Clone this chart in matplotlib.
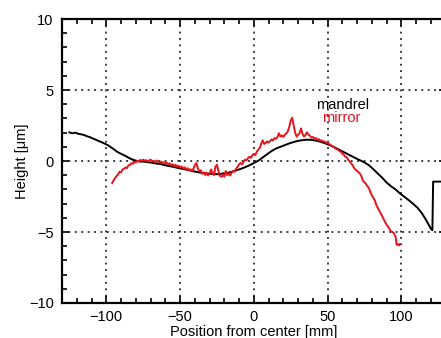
"""
Mandrel vs mirror height profile along the position from center
"""

import matplotlib
matplotlib.use("Agg")
import matplotlib.pyplot as plt
from matplotlib.ticker import MultipleLocator

plt.rcParams['font.family'] = ['Liberation Sans', 'DejaVu Sans']

# mandrel profile (black)
mandrel_x = [-125, -123, -121, -119, -117, -115, -113, -111, -109, -107, -105, -103, -101, -99, -97,
             -95, -93, -91, -89, -87, -85, -83, -81, -79, -77, -75, -72, -69, -66, -63, -60, -57,
             -54, -51, -48, -45, -42, -39, -36, -33, -30, -27, -24, -21, -18, -15, -12, -9, -6, -3,
             0, 3, 6, 9, 12, 15, 18, 21, 24, 27, 30, 33, 36, 39, 42, 45, 48, 51, 54, 57, 60, 63,
             66, 69, 72, 75, 78, 81, 84, 87, 90, 93, 96, 99, 102, 105, 108, 111, 114, 117, 120,
             121, 121.5, 125, 131]
mandrel_y = [2.02, 1.95, 2.00, 1.92, 1.88, 1.83, 1.74, 1.68, 1.58, 1.50, 1.40, 1.32, 1.22, 1.12, 0.98,
             0.84, 0.68, 0.56, 0.46, 0.36, 0.24, 0.14, 0.06, 0.00, -0.04, -0.04, -0.08, -0.12, -0.18,
             -0.22, -0.30, -0.36, -0.42, -0.50, -0.56, -0.62, -0.70, -0.76, -0.82, -0.86, -0.90,
             -0.92, -0.93, -0.88, -0.84, -0.76, -0.66, -0.56, -0.44, -0.30,
             -0.14, 0.02, 0.25, 0.48, 0.70, 0.88, 1.00, 1.12, 1.24, 1.34, 1.42, 1.47, 1.50, 1.49,
             1.44, 1.36, 1.26, 1.14, 1.00, 0.84, 0.68, 0.52, 0.36, 0.20, 0.05, -0.10, -0.30, -0.58,
             -0.88, -1.18, -1.52, -1.78, -2.00, -2.28, -2.52, -2.76, -3.02, -3.30, -3.70, -4.20,
             -4.78, -4.88, -1.45, -1.45, -1.45]

# mirror profile (red)
mirror_x = [-96, -95, -94, -93, -92, -91, -90, -89, -88, -87, -86, -85, -84, -83, -82, -81, -80,
            -79, -78, -77, -76, -75, -74, -73, -72, -71, -70, -69, -68, -67, -66, -65, -64, -63,
            -62, -61, -60, -59, -58, -57, -56, -55, -54, -53, -52, -51, -50, -49, -48, -47, -46,
            -45, -44, -43, -42, -41, -40, -39, -38, -37, -36, -35, -34, -33, -32, -31, -30, -29,
            -28, -27, -26, -25, -24, -23, -22, -21, -20, -19, -18, -17, -16, -15, -14, -13, -12,
            -11, -10, -9, -8, -7, -6, -5, -4, -3, -2, -1, 0, 1, 2, 3, 4, 5, 6, 7, 8, 9, 10, 11,
            12, 13, 14, 15, 16, 17, 18, 19, 20, 21, 22, 23, 24, 25, 26, 27, 28, 29, 30, 31, 32,
            33, 34, 35, 36, 37, 38, 39, 40, 41, 42, 43, 44, 45, 46, 47, 48, 49, 50, 51, 52, 53,
            54, 55, 56, 57, 58, 59, 60, 61, 62, 63, 64, 65, 66, 67, 68, 69, 70, 71, 72, 73, 74,
            75, 76, 77, 78, 79, 80, 81, 82, 83, 84, 85, 86, 87, 88, 89, 90, 91, 92, 93, 94, 95,
            96, 96.8, 97.5, 98.5, 99]
mirror_y = [-1.55, -1.35, -1.20, -1.05, -0.95, -0.75, -0.80, -0.60, -0.55, -0.45, -0.50, -0.30,
            -0.28, -0.15, -0.20, -0.05, -0.10, 0.02, -0.04, 0.08, 0.00, 0.10, 0.02, 0.06, -0.04,
            0.04, 0.10, -0.02, 0.02, -0.08, 0.04, -0.06, -0.12, -0.04, -0.14, -0.08, -0.20, -0.12,
            -0.22, -0.16, -0.30, -0.22, -0.36, -0.26, -0.40, -0.34, -0.46, -0.38, -0.52, -0.44,
            -0.60, -0.50, -0.66, -0.58, -0.70, -0.56, -0.30, -0.14, -0.50, -0.72, -0.64, -0.90,
            -0.80, -0.98, -0.84, -1.02, -0.90, -0.60, -0.82, -1.00, -0.40, -0.26, -0.70, -1.04,
            -1.12, -0.98, -1.10, -0.70, -1.00, -0.86, -1.02, -0.80, -0.70, -0.76, -0.54, -0.40,
            -0.24, -0.14, -0.24, -0.06, 0.10, 0.04, 0.20, 0.30, 0.22, 0.40, 0.50, 0.42, 0.66,
            0.80, 0.92, 1.22, 1.46, 1.20, 1.28, 1.38, 1.30, 1.40, 1.52, 1.44, 1.62, 1.56, 1.68,
            1.96, 1.72, 1.80, 1.70, 1.86, 1.94, 2.08, 2.40, 2.85, 3.05, 2.50, 2.00, 1.72, 1.84,
            1.96, 2.30, 1.90, 1.72, 1.84, 2.02, 1.86, 1.78, 1.64, 1.70, 1.58, 1.62, 1.50, 1.54,
            1.42, 1.46, 1.36, 1.38, 1.28, 1.30, 1.20, 1.12, 1.06, 0.98, 0.92, 0.84, 0.80, 0.70,
            0.66, 0.52, 0.44, 0.30, 0.26, 0.08, -0.05, -0.18, -0.30, -0.50, -0.62, -0.70, -0.80,
            -0.90, -1.10, -1.40, -1.50, -1.62, -1.78, -1.90, -2.20, -2.42, -2.60, -2.78, -3.10,
            -3.30, -3.50, -3.70, -3.88, -4.10, -4.30, -4.50, -4.62, -4.80, -4.96, -5.00, -5.10,
            -5.30, -5.90, -5.85, -5.95, -5.85]

fig = plt.figure(figsize=(4.41, 3.38), dpi=100)
# axes runs past the right edge of the figure, as in the original
ax = fig.add_axes([0.1406, 0.1036, 0.870, 0.840])

ax.plot(mandrel_x, mandrel_y, color="black", lw=1.4)
ax.plot(mirror_x, mirror_y, color="#e8131b", lw=1.4)

ax.set_xlim(-130, 130)
ax.set_ylim(-10, 10)
ax.xaxis.set_major_locator(MultipleLocator(50))
ax.xaxis.set_minor_locator(MultipleLocator(10))
ax.yaxis.set_major_locator(MultipleLocator(5))
ax.yaxis.set_minor_locator(MultipleLocator(1))
ax.tick_params(which="both", direction="in", top=True, right=True, labelsize=10.5, width=1.2)
ax.tick_params(which="major", length=5)
ax.tick_params(which="minor", length=3.5)
ax.tick_params(axis="x", pad=5)
ax.tick_params(axis="y", pad=6)
for sp in ax.spines.values():
    sp.set_linewidth(1.6)

ax.grid(True, which="major", color="black", linestyle=(0, (1.2, 3)), lw=1.1)

ax.set_xlabel("Position from center [mm]", fontsize=10.5, labelpad=1)
ax.set_ylabel("Height [\u03bcm]", fontsize=10.5, labelpad=0)

ax.text(60, 3.94, "mandrel", color="black", fontsize=10.5, ha="center", va="center")
ax.text(59, 3.0, "mirror", color="#e8131b", fontsize=10.5, ha="center", va="center")

fig.savefig("out.png", dpi=100)
